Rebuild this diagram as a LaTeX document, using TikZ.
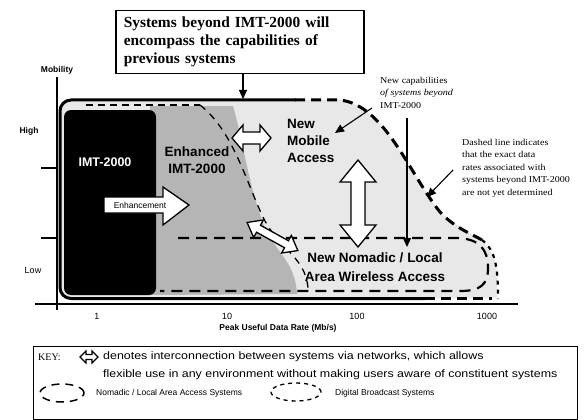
\documentclass[tikz,border=0pt]{standalone}
\usepackage{fontspec}
\setmainfont{Liberation Serif}
\setsansfont{Liberation Sans}
\newfontfamily\keyfont{Liberation Sans}[FakeStretch=1.15]
\newfontfamily\notefont{Liberation Serif}[FakeStretch=1.12]
\usetikzlibrary{arrows.meta,shapes.geometric}
\newcommand{\dblarr}[6]{%
  \begin{scope}[shift={#1}, rotate=#2]
    \draw[whitearrow] (-#3,0) -- ({-#3+#4},{-#5}) -- ({-#3+#4},{-#6}) -- ({#3-#4},{-#6}) -- ({#3-#4},{-#5}) -- (#3,0)
      -- ({#3-#4},{#5}) -- ({#3-#4},{#6}) -- ({-#3+#4},{#6}) -- ({-#3+#4},{#5}) -- cycle;
  \end{scope}}
\begin{document}
\begin{tikzpicture}[x=1pt,y=-1pt,
  whitearrow/.style={fill=white, draw=black, line width=1.3pt, line join=miter},
  thickdash/.style={line width=3pt, dash pattern=on 10pt off 6pt},
  nomdash/.style={line width=2.2pt, dash pattern=on 11pt off 7pt},
  bcdash/.style={line width=2.2pt, dash pattern=on 4pt off 5pt},
  axlbl/.style={font=\sffamily\fontsize{9}{10}\selectfont, inner sep=0},
  axbold/.style={font=\sffamily\bfseries\fontsize{8.5}{10}\selectfont, inner sep=0},
  big/.style={font=\sffamily\bfseries\fontsize{13.5}{17}\selectfont, inner sep=0},
  note/.style={font=\notefont\fontsize{9}{12.5}\selectfont, inner sep=0, align=left, anchor=north west},
  keytxt/.style={font=\keyfont\fontsize{10.8}{12}\selectfont, inner sep=0, anchor=west},
  keysmall/.style={font=\sffamily\fontsize{8.5}{10}\selectfont, inner sep=0, anchor=west},
  thinarrow/.style={line width=1.1pt, -{Triangle[length=9pt,width=8pt]}}
]
\useasboundingbox (0,0) rectangle (584,420);

% light region of systems beyond IMT-2000
\fill[gray!18] (72,100) -- (340,100) .. controls (385,105) and (410,175) .. (440,212)
  .. controls (460,232) and (497,238) .. (497,275) -- (497,298) -- (72,299)
  .. controls (64,299) and (60,295) .. (60,287) -- (60,112)
  .. controls (60,104) and (64,100) .. (72,100) -- cycle;
% enhanced IMT-2000 region
\fill[gray!58] (150,106) -- (233,106) .. controls (243,140) and (248,185) .. (265,228)
  .. controls (278,255) and (295,262) .. (297,294) -- (150,295) -- cycle;
% IMT-2000 region
\fill[black, rounded corners=7pt] (64,110) rectangle (156,295);

% dashed boundaries
\draw[line width=1.3pt, dash pattern=on 7pt off 5pt] (86,105) -- (200,105);
\draw[line width=1.3pt, dash pattern=on 7pt off 6pt] (200,105) .. controls (232,130) and (245,178) .. (262,215)
  .. controls (278,250) and (305,255) .. (308,288);
\draw[nomdash] (178,238) -- (455,238) .. controls (480,238) and (488,250) .. (488,268)
  .. controls (488,285) and (480,291) .. (460,291) -- (160,291);
\draw[thickdash] (295,100) -- (340,100) .. controls (385,105) and (410,175) .. (440,212)
  .. controls (455,228) and (470,233) .. (482,240);
\draw[bcdash] (482,240) .. controls (495,250) and (498,265) .. (498,299);
\draw[thickdash] (425,298.5) -- (492,298.5);

% outer solid frame
\draw[line width=3pt, rounded corners=11pt] (296,100) -- (60,100) -- (60,298.5) -- (425,298.5);

% axes
\draw[line width=1.2pt] (57,77) -- (57,310);
\draw[line width=1.2pt] (35,304) -- (518,304);
\draw[line width=1.2pt] (41,168) -- (57,168);
\draw[line width=1.2pt] (41,238) -- (57,238);
\node[axbold] (mob) at (57,70) {Mobility};
\node[axbold] (high) at (29,131) {High};
\node[axlbl] (low) at (33,270) {Low};
\node[axlbl] (x1) at (97,316) {1};
\node[axlbl] (x10) at (227,316) {10};
\node[axlbl] (x100) at (357,316) {100};
\node[axlbl] (x1000) at (487,316) {1000};
\node[axbold] (xlab) at (278,328) {Peak Useful Data Rate (Mb/s)};

% region labels
\node[font=\sffamily\bfseries\fontsize{12.5}{14}\selectfont, text=white, inner sep=0] (imt) at (105,162) {IMT-2000};
\node[big, align=center] (enh) at (197,160) {Enhanced\\IMT-2000};
\node[big, align=left, anchor=north west] (nma) at (287,119) {New\\Mobile\\Access};
\node[big, align=center, font=\sffamily\bfseries\fontsize{13.5}{19}\selectfont] (nom) at (375,267) {New Nomadic / Local\\Area Wireless Access};

% enhancement arrow
\draw[whitearrow] (104,197) -- (163,197) -- (163,187) -- (189,205) -- (163,225) -- (163,213) -- (104,213) -- cycle;
\node[font=\sffamily\fontsize{8.5}{10}\selectfont, inner sep=0] (enhtxt) at (140,205) {Enhancement};

% interconnection arrows
\dblarr{(251.5,138)}{0}{19.5}{11}{13}{6}
\dblarr{(358,203.5)}{90}{43.5}{22}{18}{7}
\dblarr{(272.5,236.5)}{-29}{29}{13}{10}{4}

% top statement box
\node[draw, line width=1.5pt, anchor=north west, inner xsep=8pt, inner ysep=4pt,
  text width=232pt, minimum height=63pt, align=left,
  font=\bfseries\fontsize{15.4}{18}\selectfont] (topbox) at (115,10)
  {Systems beyond IMT-2000 will\\encompass the capabilities of\\previous systems};
\coordinate (frametop) at (243,99);
\draw[thinarrow] (topbox.south -| frametop) -- (frametop);

% notes
\node[note] (newcap) at (380,77) {New capabilities\\\textit{of systems beyond}\\IMT-2000};
\coordinate (capfrom) at (372,108);
\coordinate (capto) at (335,133);
\draw[thinarrow] (capfrom) -- (capto);
\coordinate (vtop) at (407,118);
\coordinate (vbot) at (407,247);
\draw[thinarrow] (vtop) -- (vbot);
\node[note] (dashnote) at (462,139) {Dashed line indicates\\that the exact data\\rates associated with\\systems beyond IMT-2000\\are not yet determined};
\coordinate (dnfrom) at (453,170);
\coordinate (dnto) at (427,197);
\draw[thinarrow] (dnfrom) -- (dnto);

% key
\node[draw, line width=0.8pt, anchor=north west, minimum width=544pt, minimum height=73pt, inner sep=0] (keybox) at (33,346) {};
\node[font=\fontsize{10}{12}\selectfont, inner sep=0, anchor=west] (keylbl) at (38,357) {KEY:};
\begin{scope}
\tikzset{whitearrow/.style={fill=white, draw=black, line width=1.1pt, line join=miter}}
\dblarr{(89,357)}{0}{9}{6}{6}{2.5}
\end{scope}
\node[keytxt] (k1) at (103,357) {denotes interconnection between systems via networks, which allows};
\node[keytxt] (k2) at (103,375) {flexible use in any environment without making users aware of constituent systems};
\node[ellipse, draw, line width=1.5pt, dash pattern=on 8pt off 6pt, minimum width=44pt, minimum height=18pt, inner sep=0] (keynom) at (62,393) {};
\node[keysmall] (k3) at (96,393) {Nomadic / Local Area Access Systems};
\node[ellipse, draw, line width=1.3pt, dash pattern=on 4pt off 4pt, minimum width=50pt, minimum height=18pt, inner sep=0] (keybc) at (296,392) {};
\node[keysmall] (k4) at (335,393) {Digital Broadcast Systems};
\end{tikzpicture}
\end{document}
